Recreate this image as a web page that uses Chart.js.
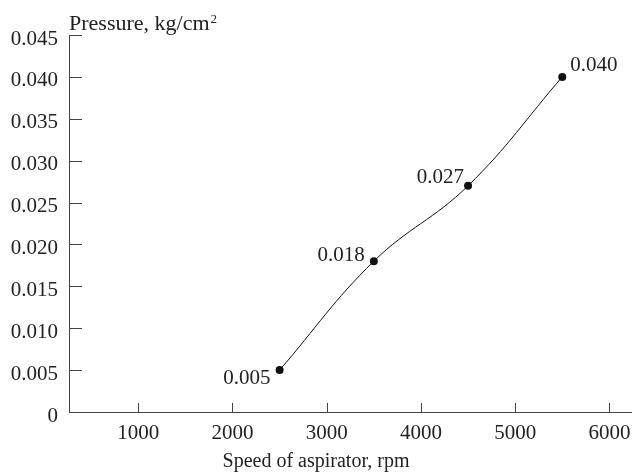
<!DOCTYPE html>
<html>
<head>
<meta charset="utf-8">
<script src="https://cdn.jsdelivr.net/npm/chart.js@4.4.1/dist/chart.umd.min.js"></script>
<style>
  html, body { margin: 0; padding: 0; background: #fff; }
  #wrap { width: 632px; height: 474px; }
</style>
</head>
<body>
<div id="wrap"><canvas id="pressureChart"></canvas></div>
<script>
// Datos
const speeds = [2500, 3500, 4500, 5500];
const pressures = [0.005, 0.018, 0.027, 0.040];
const pointLabels = ["0.005", "0.018", "0.027", "0.040"];
const xTicks = [1000, 2000, 3000, 4000, 5000, 6000];
const yTicks = [0, 0.005, 0.010, 0.015, 0.020, 0.025, 0.030, 0.035, 0.040, 0.045];
const xTitle = "Speed of aspirator, rpm";
const yTitle = "Pressure, kg/cm";
const yTitleSup = "2";

const FONT = "'Liberation Serif', 'Times New Roman', serif";
const textColor = "#222";
const axisColor = "#444";

// Posición de cada etiqueta respecto a su punto
const labelPlacement = [
  { align: "right", dx: -9, dy: 8 },
  { align: "right", dx: -9, dy: -6 },
  { align: "right", dx: -4, dy: -8 },
  { align: "left", dx: 8, dy: -11 }
];

// Marcas hacia dentro, título del eje Y y etiquetas de los puntos
const annotations = {
  id: "annotations",
  afterDatasetsDraw(chart) {
    const { ctx, chartArea, scales } = chart;
    ctx.save();
    ctx.strokeStyle = axisColor;
    ctx.lineWidth = 1;
    ctx.beginPath();
    xTicks.forEach(v => {
      const px = Math.round(scales.x.getPixelForValue(v)) + 0.5;
      ctx.moveTo(px, chartArea.bottom);
      ctx.lineTo(px, chartArea.bottom - 9);
    });
    yTicks.forEach(v => {
      const py = Math.round(scales.y.getPixelForValue(v)) + 0.5;
      ctx.moveTo(chartArea.left, py);
      ctx.lineTo(chartArea.left + 13, py);
    });
    ctx.stroke();

    ctx.fillStyle = textColor;
    ctx.font = "22px " + FONT;
    ctx.textAlign = "left";
    ctx.textBaseline = "alphabetic";
    ctx.fillText(yTitle, chartArea.left, 30);
    const w = ctx.measureText(yTitle).width;
    ctx.font = "13px " + FONT;
    ctx.fillText(yTitleSup, chartArea.left + w + 1, 23);

    ctx.font = "21px " + FONT;
    ctx.textBaseline = "middle";
    const meta = chart.getDatasetMeta(0);
    meta.data.forEach((pt, i) => {
      const p = labelPlacement[i];
      ctx.textAlign = p.align;
      ctx.fillText(pointLabels[i], pt.x + p.dx, pt.y + p.dy);
    });
    ctx.restore();
  }
};

const ctx = document.getElementById("pressureChart").getContext("2d");
const pressureChart = new Chart(ctx, {
  type: "line",
  data: {
    datasets: [{
      data: speeds.map((s, i) => ({ x: s, y: pressures[i] })),
      borderColor: "#111",
      borderWidth: 1,
      backgroundColor: "#111",
      pointRadius: 4,
      pointBorderWidth: 0,
      pointBackgroundColor: "#111",
      tension: 0.4,
      fill: false
    }]
  },
  options: {
    responsive: true,
    maintainAspectRatio: false,
    animation: false,
    layout: { autoPadding: false, padding: { top: 35, right: 0, bottom: 0, left: 0 } },
    plugins: {
      legend: { display: false },
      tooltip: { enabled: false },
      title: {
        display: true,
        position: "bottom",
        text: xTitle,
        color: textColor,
        font: { family: FONT, size: 20, weight: "normal" },
        padding: { top: 0, bottom: 0 }
      }
    },
    scales: {
      x: {
        type: "linear",
        min: 265,
        max: 6240,
        afterBuildTicks: scale => { scale.ticks = xTicks.map(v => ({ value: v })); },
        afterFit: scale => {
          scale.height = 38;
          scale.paddingLeft = 0;
          scale.paddingRight = 0;
        },
        grid: { display: true, drawOnChartArea: false, drawTicks: false },
        border: { display: true, color: axisColor, width: 1 },
        ticks: {
          color: textColor,
          padding: 9,
          maxRotation: 0,
          font: { family: FONT, size: 21 },
          callback: v => String(v)
        }
      },
      y: {
        min: 0,
        max: 0.045,
        afterBuildTicks: scale => { scale.ticks = yTicks.map(v => ({ value: v })); },
        afterFit: scale => {
          scale.width = 69;
          scale.paddingTop = 0;
          scale.paddingBottom = 0;
        },
        grid: { display: true, drawOnChartArea: false, drawTicks: false },
        border: { display: true, color: axisColor, width: 1 },
        ticks: {
          color: textColor,
          padding: 11,
          labelOffset: 4,
          font: { family: FONT, size: 21 },
          callback: v => (v === 0 ? "0" : v.toFixed(3))
        }
      }
    }
  },
  plugins: [annotations]
});
</script>
</body>
</html>
